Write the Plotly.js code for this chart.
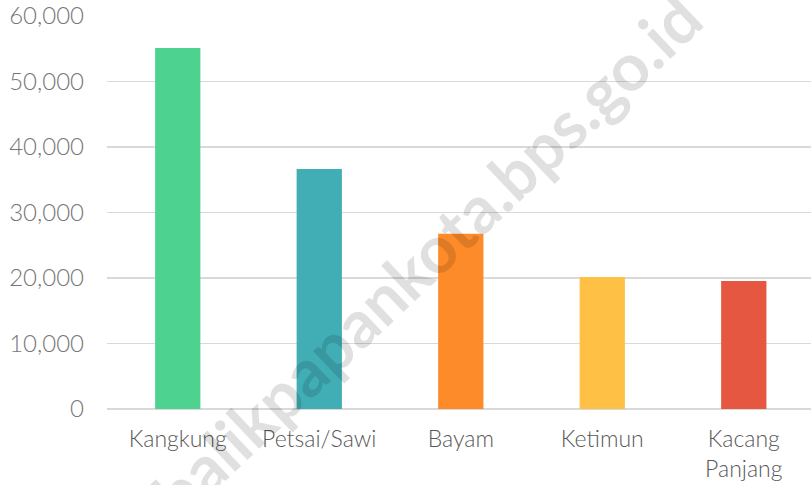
<!DOCTYPE html>
<html>
<head>
<meta charset="utf-8">
<script src="https://cdn.plot.ly/plotly-3.0.1.min.js"></script>
<style>html,body{margin:0;padding:0;background:#fff;}#chart{width:811px;height:485px;}</style>
</head>
<body>
<div id="chart"></div>
<script>
const categories = ["Kangkung", "Petsai/Sawi", "Bayam", "Ketimun", "Kacang<br>Panjang"];
const values = [55100, 36650, 26750, 20150, 19550];
const colors = ["#4ED28F", "#41AEB6", "#FD8B2A", "#FFC145", "#E55741"];
const yTickVals = [0, 10000, 20000, 30000, 40000, 50000, 60000];
const yTickText = ["0", "10,000", "20,000", "30,000", "40,000", "50,000", "60,000"];
const watermark = "balikpapankota.bps.go.id";

const trace = {
  type: "bar",
  x: categories,
  y: values,
  marker: {color: colors},
  hoverinfo: "x+y"
};

const layout = {
  width: 811,
  height: 485,
  margin: {l: 107, r: 0, t: 16, b: 75.5},
  paper_bgcolor: "#fff",
  plot_bgcolor: "#fff",
  showlegend: false,
  bargap: 0.68,
  font: {family: "Lato, 'Open Sans', sans-serif", weight: 300},
  xaxis: {
    type: "category",
    range: [-0.5, 4.475],
    showgrid: false,
    showline: false,
    zeroline: false,
    ticks: "",
    ticklabelstandoff: 14,
    tickfont: {size: 23, color: "#595959", family: "Lato, sans-serif", weight: 300},
    automargin: false
  },
  yaxis: {
    range: [0, 60000],
    tickvals: yTickVals,
    ticktext: yTickText,
    showgrid: true,
    gridcolor: "#d9d9d9",
    gridwidth: 1.6,
    zeroline: true,
    zerolinecolor: "#d9d9d9",
    zerolinewidth: 2,
    showline: false,
    ticks: "",
    ticklabelstandoff: 22,
    tickfont: {size: 24, color: "#767676", family: "Lato, sans-serif", weight: 300},
    automargin: false
  },
  annotations: [{
    text: watermark,
    xref: "paper", yref: "paper",
    x: (426 - 107) / 704, y: (485 - 75.5 - 256) / 393.5,
    xanchor: "center", yanchor: "middle",
    showarrow: false,
    textangle: -43.5,
    font: {size: 66, color: "rgba(0,0,0,0.12)", family: "Lato, sans-serif", weight: 700}
  }]
};

Plotly.newPlot("chart", [trace], layout, {displayModeBar: false, staticPlot: true});
</script>
</body>
</html>
